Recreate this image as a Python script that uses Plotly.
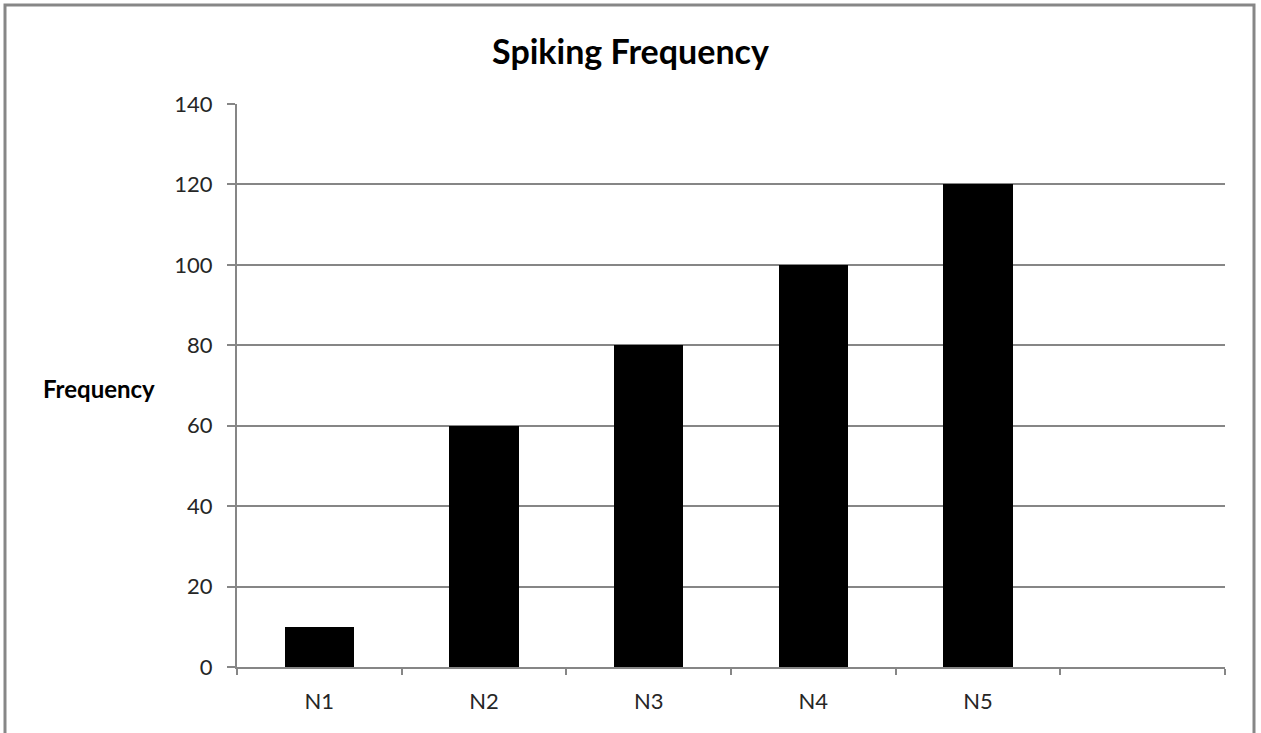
import plotly.graph_objects as go

categories = ["N1", "N2", "N3", "N4", "N5"]
values = [10, 60, 80, 100, 120]
y_ticks = [0, 20, 40, 60, 80, 100, 120, 140]

W, H = 1261, 733
L, R, T, B = 237, 36, 104, 66
pw, ph = W - L - R, H - T - B

xpos = list(range(len(categories)))
n_slots = len(categories) + 1

fig = go.Figure()
fig.add_trace(go.Bar(
    x=xpos, y=values, width=0.42,
    marker=dict(color="black", line=dict(width=0)),
    hoverinfo="skip",
))

font_fam = "Lato, 'Open Sans', sans-serif"
grey = "#868686"

fig.update_layout(
    width=W, height=H,
    margin=dict(l=L, r=R, t=T, b=B),
    paper_bgcolor="white", plot_bgcolor="white",
    showlegend=False,
    font=dict(family=font_fam, color="#262626", size=22),
    title=dict(text="<b>Spiking Frequency</b>", x=0.5, xref="container", xanchor="center",
               y=1 - 52 / H, yanchor="middle", font=dict(size=34, color="black")),
    bargap=0,
)
fig.update_xaxes(
    range=[-0.5, n_slots - 0.5],
    tickvals=xpos, ticktext=categories, ticks="",
    showgrid=False, zeroline=False,
    showline=True, linecolor=grey, linewidth=2,
    minor=dict(tickvals=[i - 0.5 for i in range(n_slots + 1)], ticks="outside",
               ticklen=6, tickcolor=grey, tickwidth=2, showgrid=False),
    ticklabelstandoff=14,
    fixedrange=True,
)
fig.update_yaxes(
    range=[0, 140], tickvals=y_ticks,
    ticks="outside", ticklen=8, tickcolor=grey, tickwidth=2,
    showgrid=True, gridcolor=grey, gridwidth=2,
    zeroline=False,
    showline=True, linecolor=grey, linewidth=2,
    ticklabelstandoff=10,
    fixedrange=True,
)

fig.add_annotation(
    text="<b>Frequency</b>", xref="paper", yref="paper",
    x=(99 - L) / pw, y=(H - B - 388) / ph,
    xanchor="center", yanchor="middle", showarrow=False,
    font=dict(size=24, color="black", family=font_fam),
)

fig.add_shape(
    type="rect", xref="paper", yref="paper",
    x0=(5 - L) / pw, x1=(1254 - L) / pw,
    y0=(H - B - 745) / ph, y1=(H - B - 5) / ph,
    line=dict(color="#878787", width=3), fillcolor="rgba(0,0,0,0)", layer="below",
)

fig.write_html("out.html", config={"displayModeBar": False})
